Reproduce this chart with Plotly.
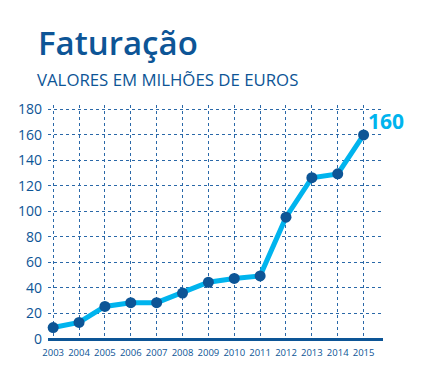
import plotly.graph_objects as go

years = [2003, 2004, 2005, 2006, 2007, 2008, 2009, 2010, 2011, 2012, 2013, 2014, 2015]
values = [9, 13, 25.5, 28.5, 28.5, 36, 44.5, 47.5, 49.5, 95.5, 126.5, 129.5, 160]
y_ticks = [0, 20, 40, 60, 80, 100, 120, 140, 160, 180]

DARK = "#0d5596"
LIGHT = "#00b4ee"
FONT = "Open Sans"

fig = go.Figure()
fig.add_trace(go.Scatter(
    x=years, y=values, mode="lines+markers",
    line=dict(color=LIGHT, width=5),
    marker=dict(color=DARK, size=11),
    hoverinfo="skip", showlegend=False, cliponaxis=False,
))

fig.update_layout(
    width=417, height=357,
    margin=dict(l=40, r=42, t=97, b=26, autoexpand=False),
    paper_bgcolor="white", plot_bgcolor="white",
    font=dict(family=FONT, color=DARK),
    xaxis=dict(
        range=[2002.8, 2015.75], tickvals=years, ticktext=[str(y) for y in years],
        tickfont=dict(size=9.5, color=DARK),
        showgrid=True, gridcolor="#2a68a8", griddash="dot", gridwidth=1,
        showline=False, zeroline=False, ticks="", fixedrange=True, automargin=False,
        ticklabelstandoff=6,
    ),
    yaxis=dict(
        range=[0, 183.5], tickvals=y_ticks,
        tickfont=dict(size=14, color=DARK),
        showgrid=True, gridcolor="#2a68a8", griddash="dot", gridwidth=1,
        zeroline=True, zerolinecolor=DARK, zerolinewidth=3,
        ticks="", ticklabelstandoff=5, fixedrange=True, automargin=False,
    ),
    annotations=[
        dict(text="Faturação", xref="paper", yref="paper", x=-0.036, y=1.265,
             xanchor="left", yanchor="middle", showarrow=False,
             font=dict(size=33, color=DARK, family=FONT, weight=600)),
        dict(text="VALORES EM MILHÕES DE EUROS", xref="paper", yref="paper", x=-0.038, y=1.107,
             xanchor="left", yanchor="middle", showarrow=False,
             font=dict(size=16.8, color=DARK, family=FONT)),
        dict(text="<b>160</b>", xref="x", yref="y", x=years[-1], y=values[-1],
             xanchor="left", yanchor="bottom", xshift=2, yshift=-2, showarrow=False,
             font=dict(size=21, color=LIGHT, family=FONT)),
    ],
)

fig.write_html("out.html")
